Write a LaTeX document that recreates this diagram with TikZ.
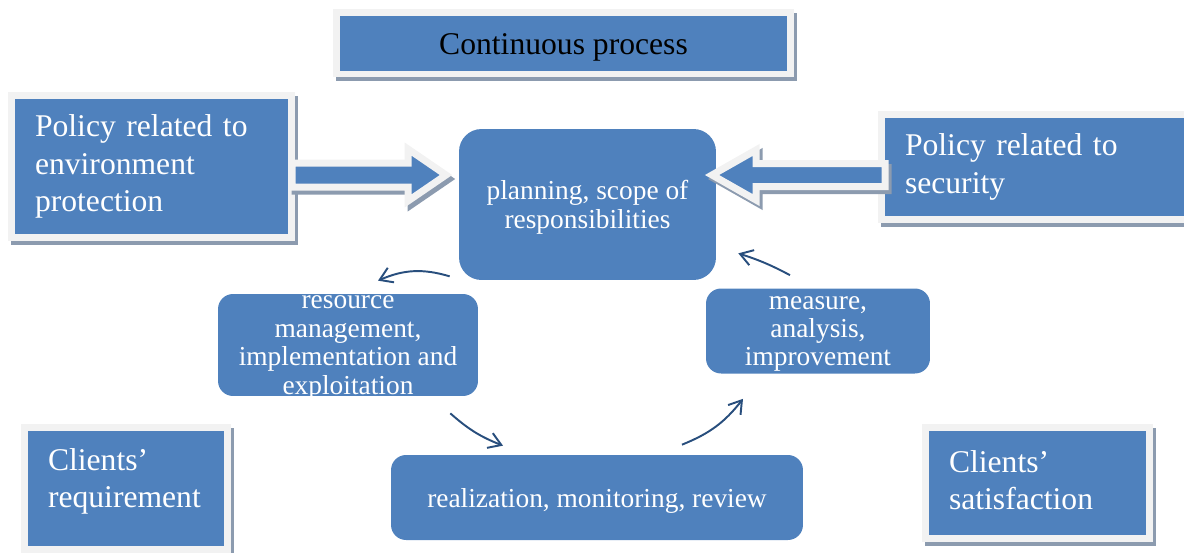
\documentclass[tikz,border=0pt]{standalone}
\usepackage{fontspec}
\setmainfont{Liberation Serif}
\usepackage{xcolor}
\usetikzlibrary{arrows.meta}

\definecolor{boxblue}{RGB}{79,129,189}
\definecolor{framegray}{RGB}{242,242,242}
\definecolor{shadowgray}{RGB}{140,155,175}
\definecolor{flowblue}{RGB}{40,78,125}

\begin{document}
\begin{tikzpicture}[x=0.02cm, y=-0.02cm,
    framed/.style={fill=boxblue, draw=framegray, line width=0.14cm, line join=miter,
        preaction={draw=shadowgray, line width=0.14cm,
            transform canvas={xshift=0.06cm, yshift=-0.08cm}}},
    bigtext/.style={font=\fontsize{18}{21.3}\selectfont, text=white, align=left, inner ysep=0pt},
    roundbox/.style={fill=boxblue, rounded corners=0.3cm, text=white, align=center,
        font=\fontsize{15.6}{16.2}\selectfont, inner sep=0pt, text depth=0pt},
    turnarrow/.style={draw=flowblue, line width=1.1pt, -{Straight Barb[length=7pt,width=9pt]}}]
    \useasboundingbox (0,0) rectangle (1184,552);
    \clip (0,0) rectangle (1184,552);

    % Title
    \node[framed, text=black, font=\fontsize{18}{21.3}\selectfont, inner sep=0pt, text height=16.7pt,
        minimum width=9.1cm, minimum height=1.24cm] (title) at (563.5,43) {Continuous process};

    % Policy boxes
    \node[framed, bigtext, text width=4.66cm, inner xsep=0.48cm, minimum height=2.86cm]
        (envpolicy) at (151.5,166.5) {Policy related to\\ environment\\ protection};
    \node[framed, bigtext, text width=5.26cm, inner xsep=0.48cm, minimum height=2.12cm]
        (secpolicy) at (1036.5,167) {Policy related to\\ security};

    % Clients
    \node[framed, bigtext, text width=3.12cm, inner xsep=0.47cm, minimum height=2.45cm, text depth=33.5pt]
        (requirement) at (126,488.75) {Clients'\\ requirement};
    \node[framed, bigtext, text width=3.55cm, inner xsep=0.47cm, minimum height=2.24cm, text depth=25pt]
        (satisfaction) at (1037.75,483) {Clients'\\ satisfaction};

    % Cycle
    \node[roundbox, rounded corners=0.45cm, minimum width=5.14cm, minimum height=3.02cm]
        (planning) at (587.5,204.5) {planning, scope of\\ responsibilities};
    \node[roundbox, minimum width=5.2cm, minimum height=2.04cm]
        (resource) at (348,345) {resource\\ management,\\ implementation and\\ exploitation};
    \node[roundbox, minimum width=4.48cm, minimum height=1.7cm]
        (measure) at (818,331) {measure,\\ analysis,\\ improvement};
    \node[roundbox, minimum width=8.24cm, minimum height=1.7cm]
        (realization) at (597,497.5) {realization, monitoring, review};

    % Block arrows into planning
    \draw[framed] (292,163) -- (408,163) -- (408,149) -- (446,175) -- (408,201) -- (408,187) -- (292,187) -- cycle;
    \draw[framed] (885,163.5) -- (756,163.5) -- (756,150) -- (712,175) -- (756,200) -- (756,186.5) -- (885,186.5) -- cycle;

    % Cycle arrows
    \draw[turnarrow] ([shift={(-9,-4)}]planning.south west) to[bend right=20] ([shift={(30,-13)}]resource.north);
    \draw[turnarrow] ([shift={(-28,17)}]resource.south east) to[bend right=10] ([shift={(-94,-9)}]realization.north);
    \draw[turnarrow] ([shift={(85,-10)}]realization.north) to[bend right=15] ([shift={(-75,25)}]measure.south);
    \draw[turnarrow] ([shift={(-28,-13)}]measure.north) to[bend right=5] ([shift={(22,-27)}]planning.south east);
\end{tikzpicture}
\end{document}
